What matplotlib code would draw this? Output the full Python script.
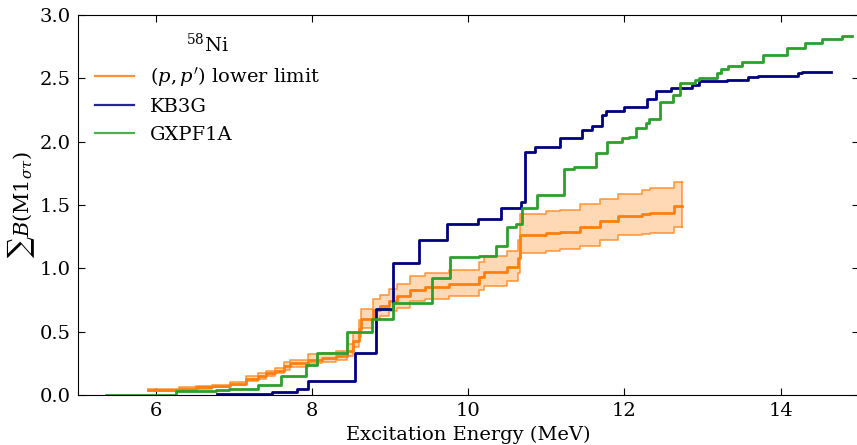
import numpy as np
import matplotlib
matplotlib.use("Agg")
import matplotlib.pyplot as plt

plt.rcParams['font.family'] = ['DejaVu Serif']
plt.rcParams['mathtext.fontset'] = 'dejavuserif'
plt.rcParams['font.size'] = 14

# ---- data (excitation energy step edges in MeV, cumulative B(M1)) ----
pp_E = [5.90, 6.30, 6.51, 6.72, 6.95, 7.15, 7.30, 7.41, 7.52, 7.64, 7.71, 7.94,
        8.13, 8.30, 8.45, 8.52, 8.60, 8.63, 8.78, 8.87, 8.98, 9.08, 9.25, 9.45,
        9.75, 10.14, 10.20, 10.50, 10.64, 10.66, 11.00, 11.17, 11.43, 11.69,
        11.92, 12.22, 12.33, 12.64]
pp_end = 12.74
pp_center = [0.04, 0.05, 0.06, 0.07, 0.09, 0.13, 0.15, 0.17, 0.19, 0.23, 0.25, 0.28,
             0.29, 0.31, 0.35, 0.43, 0.52, 0.60, 0.67, 0.70, 0.74, 0.78, 0.83, 0.85,
             0.88, 0.93, 0.97, 1.01, 1.08, 1.26, 1.28, 1.29, 1.33, 1.37,
             1.41, 1.43, 1.44, 1.49]
pp_upper = [0.05, 0.06, 0.07, 0.08, 0.10, 0.15, 0.17, 0.19, 0.21, 0.26, 0.28, 0.32,
            0.33, 0.35, 0.40, 0.49, 0.59, 0.68, 0.76, 0.79, 0.84, 0.88, 0.94, 0.96,
            0.99, 1.05, 1.10, 1.14, 1.22, 1.43, 1.45, 1.46, 1.51, 1.55,
            1.59, 1.62, 1.63, 1.68]
pp_lower = [0.03, 0.04, 0.05, 0.06, 0.08, 0.11, 0.13, 0.15, 0.17, 0.20, 0.22, 0.25,
            0.26, 0.28, 0.31, 0.38, 0.46, 0.53, 0.60, 0.62, 0.66, 0.69, 0.74, 0.76,
            0.78, 0.83, 0.86, 0.90, 0.96, 1.12, 1.14, 1.15, 1.18, 1.22,
            1.26, 1.27, 1.28, 1.33]

kb3g_E = [6.78, 7.06, 7.49, 7.81, 7.94, 8.55, 8.82, 9.03, 9.37, 9.73, 10.13, 10.42,
          10.68, 10.73, 10.85, 11.17, 11.46, 11.59, 11.71, 11.76, 11.99, 12.29,
          12.40, 12.60, 12.87, 12.95, 13.31, 13.58, 13.71, 14.22, 14.27]
kb3g_end = 14.65
kb3g_B = [0.005, 0.01, 0.02, 0.05, 0.11, 0.33, 0.68, 1.04, 1.22, 1.35, 1.39, 1.48,
          1.52, 1.92, 1.96, 2.03, 2.09, 2.12, 2.21, 2.24, 2.27, 2.34,
          2.40, 2.42, 2.45, 2.48, 2.49, 2.51, 2.52, 2.54, 2.55]

gx_E = [5.36, 6.26, 6.77, 6.94, 7.31, 7.60, 7.92, 8.06, 8.45, 8.77, 9.03, 9.54,
        9.76, 10.14, 10.36, 10.49, 10.61, 10.69, 10.88, 11.22, 11.35, 11.63,
        11.78, 11.97, 12.06, 12.15, 12.28, 12.32, 12.45, 12.62, 12.71, 12.90,
        12.95, 13.18, 13.24, 13.32, 13.51, 13.77, 14.08, 14.31, 14.53, 14.78]
gx_end = 14.91
gx_B = [0.0, 0.03, 0.04, 0.05, 0.08, 0.15, 0.24, 0.33, 0.50, 0.60, 0.73, 0.92,
        1.09, 1.10, 1.18, 1.33, 1.35, 1.48, 1.58, 1.78, 1.80, 1.91,
        2.00, 2.03, 2.04, 2.11, 2.15, 2.18, 2.31, 2.37, 2.46, 2.49,
        2.50, 2.54, 2.57, 2.60, 2.63, 2.68, 2.74, 2.78, 2.81, 2.83]

xticks = [6, 8, 10, 12, 14]
yticks = [0.0, 0.5, 1.0, 1.5, 2.0, 2.5, 3.0]


def stepxy(edges, vals, end):
    return np.append(edges, end), np.append(vals, vals[-1])


fig = plt.figure(figsize=(8.57, 4.45), dpi=100)
ax = fig.add_axes([0.091, 0.1124, 0.911, 0.854])

orange = '#ff7f0e'
x, yc = stepxy(pp_E, pp_center, pp_end)
_, yu = stepxy(pp_E, pp_upper, pp_end)
_, yl = stepxy(pp_E, pp_lower, pp_end)
ax.fill_between(x, yl, yu, step='post', color=orange, alpha=0.3, lw=0)
ax.step(x, yu, where='post', color=orange, lw=1.2, alpha=0.75)
ax.step(x, yl, where='post', color=orange, lw=1.2, alpha=0.75)
ax.plot([x[-1], x[-1]], [yl[-1], yu[-1]], color=orange, lw=1.2, alpha=0.75)
ax.step(x, yc, where='post', color=orange, lw=2.0)

x, y = stepxy(kb3g_E, kb3g_B, kb3g_end)
ax.step(x, y, where='post', color='navy', lw=2.0)

x, y = stepxy(gx_E, gx_B, gx_end)
ax.step(x, y, where='post', color='#2ca02c', lw=2.0)

# legend proxies (thinner handles, as in the reference)
ax.plot([], [], color=orange, lw=1.6, alpha=0.85, label=r"$(p,p')$ lower limit")
ax.plot([], [], color='navy', lw=1.6, alpha=0.85, label='KB3G')
ax.plot([], [], color='#2ca02c', lw=1.6, alpha=0.85, label='GXPF1A')

ax.set_xlim(5, 15)
ax.set_ylim(0, 3.0)
ax.set_xticks(xticks)
ax.set_yticks(yticks)
ax.set_yticklabels([f"{v:.1f}" for v in yticks])
ax.tick_params(direction='in', top=True, right=True, length=5, labelsize=14, pad=5)
ax.set_xlabel('Excitation Energy (MeV)', fontsize=14, labelpad=4)
ax.set_ylabel(r'$\sum B(\mathrm{M1}_{\sigma\tau})$', fontsize=15, labelpad=2)

leg = ax.legend(loc='upper left', frameon=False, title=r'$^{58}$Ni',
                fontsize=14, title_fontsize=14, labelspacing=0.5,
                bbox_to_anchor=(0.0, 1.0))

fig.savefig('out.png', dpi=100)
